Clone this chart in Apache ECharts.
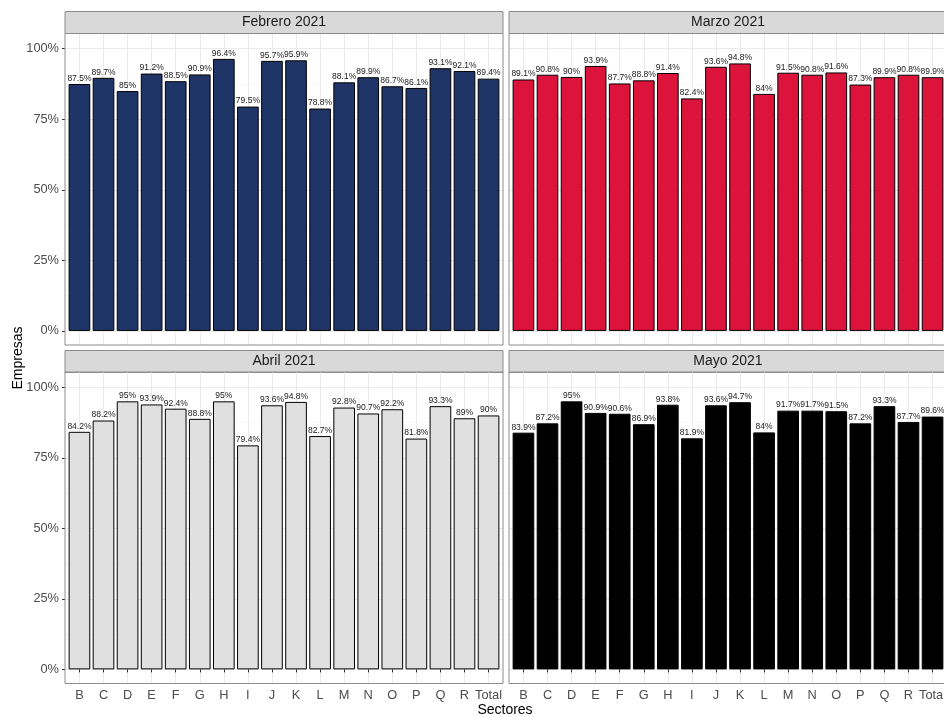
<!DOCTYPE html>
<html>
<head>
<meta charset="utf-8">
<script src="https://cdn.jsdelivr.net/npm/echarts@6/dist/echarts.min.js"></script>
<style>
html,body{margin:0;padding:0;background:#fff;}
#chart{width:944px;height:717px;}
</style>
</head>
<body>
<div id="chart"></div>
<script>
const categories = ['B','C','D','E','F','G','H','I','J','K','L','M','N','O','P','Q','R','Total'];
const febrero = [87.5, 89.7, 85, 91.2, 88.5, 90.9, 96.4, 79.5, 95.7, 95.9, 78.8, 88.1, 89.9, 86.7, 86.1, 93.1, 92.1, 89.4];
const marzo   = [89.1, 90.8, 90, 93.9, 87.7, 88.8, 91.4, 82.4, 93.6, 94.8, 84, 91.5, 90.8, 91.6, 87.3, 89.9, 90.8, 89.9];
const abril   = [84.2, 88.2, 95, 93.9, 92.4, 88.8, 95, 79.4, 93.6, 94.8, 82.7, 92.8, 90.7, 92.2, 81.8, 93.3, 89, 90];
const mayo    = [83.9, 87.2, 95, 90.9, 90.6, 86.9, 93.8, 81.9, 93.6, 94.7, 84, 91.7, 91.7, 91.5, 87.2, 93.3, 87.7, 89.6];
const panelTitles = ['Febrero 2021', 'Marzo 2021', 'Abril 2021', 'Mayo 2021'];
const panelData = [febrero, marzo, abril, mayo];
const fills = ['#1F3568', '#DC143C', '#E0E0E0', '#000000'];
const yTickValues = [0, 25, 50, 75, 100];
const xTitle = 'Sectores';
const yTitle = 'Empresas';

const FONT = '"Liberation Sans", Arial, Helvetica, sans-serif';
const panelLefts = [65, 509];
const panelTops = [33.5, 372];
const stripTops = [11.5, 350.5];
const W = 438, H = 311.5, STRIP_H = 22;
const EXP_LO = 5.0, EXP_HI = 5.4; // axis expansion below 0 and above 100
const nCat = categories.length;
const unit = W / (nCat - 1 + 1.2);
const span = 100 + EXP_LO + EXP_HI;

const grid = [], xAxis = [], yAxis = [], series = [], graphic = [];

panelData.forEach((vals, p) => {
  const r = Math.floor(p / 2), c = p % 2;
  const L = panelLefts[c], T = panelTops[r];
  const gA = grid.length;
  grid.push({left: L, top: T, width: W, height: H, show: true, borderColor: '#8C8C8C', borderWidth: 1,
             backgroundColor: 'transparent', containLabel: false, outerBoundsMode: 'none', z: 3});
  xAxis.push({gridIndex: gA, type: 'value', show: false, min: 0, max: 1});
  yAxis.push({gridIndex: gA, type: 'value', show: false, min: 0, max: 1});
  const gB = grid.length;
  grid.push({left: L, top: T + H * EXP_HI / span, width: W, height: H * 100 / span, containLabel: false, outerBoundsMode: 'none'});
  xAxis.push({gridIndex: gB, type: 'value', show: false, min: 0, max: 1});
  yAxis.push({
    gridIndex: gB, type: 'value', min: yTickValues[0], max: yTickValues[yTickValues.length - 1],
    interval: yTickValues[1] - yTickValues[0],
    axisLine: {show: false},
    axisTick: {show: c === 0, length: 3, lineStyle: {color: '#333333', width: 1}},
    axisLabel: {show: c === 0, formatter: '{value}%', color: '#4D4D4D', fontSize: 12.8, fontFamily: FONT, margin: 6},
    splitLine: {show: true, lineStyle: {color: '#EBEBEB', width: 1}},
    minorTick: {show: false, splitNumber: 2},
    minorSplitLine: {show: true, lineStyle: {color: '#F5F5F5', width: 0.7}}
  });
  const gC = grid.length;
  grid.push({left: L + 0.6 * unit, top: T, width: (nCat - 1) * unit, height: H, containLabel: false, outerBoundsMode: 'none'});
  xAxis.push({
    gridIndex: gC, type: 'category', data: categories, boundaryGap: false,
    axisLine: {show: false},
    axisTick: {show: r === 1, length: 3, interval: 0, lineStyle: {color: '#333333', width: 1}},
    axisLabel: {show: r === 1, interval: 0, color: '#4D4D4D', fontSize: 12.8, fontFamily: FONT, margin: 5},
    splitLine: {show: true, interval: 0, lineStyle: {color: '#EBEBEB', width: 1}}
  });
  yAxis.push({gridIndex: gC, type: 'value', show: false, min: -EXP_LO, max: 100 + EXP_HI, splitLine: {show: false}});
  series.push({
    type: 'bar', xAxisIndex: gC, yAxisIndex: gC, data: vals, barWidth: unit * 0.9, clip: false,
    itemStyle: {color: fills[p], borderColor: '#000000', borderWidth: 1},
    label: {show: true, position: 'top', distance: 1, formatter: '{c}%', fontSize: 8.5,
            color: '#1A1A1A', fontFamily: FONT},
    emphasis: {disabled: true}, animation: false
  });
  graphic.push({type: 'rect', shape: {x: L, y: stripTops[r], width: W, height: STRIP_H},
    style: {fill: '#D9D9D9', stroke: '#8C8C8C', lineWidth: 1}, silent: true});
  graphic.push({type: 'text', x: L + W / 2, y: stripTops[r] + STRIP_H / 2,
    style: {text: panelTitles[p], fill: '#1A1A1A', font: '14px ' + FONT, textAlign: 'center', textVerticalAlign: 'middle'}, silent: true});
});

graphic.push({type: 'text', x: 505, y: 710, style: {text: xTitle, fill: '#000', font: '14px ' + FONT, textAlign: 'center', textVerticalAlign: 'middle'}, silent: true});
graphic.push({type: 'text', x: 18, y: 358, rotation: Math.PI / 2, style: {text: yTitle, fill: '#000', font: '14px ' + FONT, textAlign: 'center', textVerticalAlign: 'middle'}, silent: true});

const chart = echarts.init(document.getElementById('chart'), null, {renderer: 'canvas'});
chart.setOption({
  animation: false,
  backgroundColor: '#ffffff',
  grid, xAxis, yAxis, series, graphic
});
</script>
</body>
</html>
